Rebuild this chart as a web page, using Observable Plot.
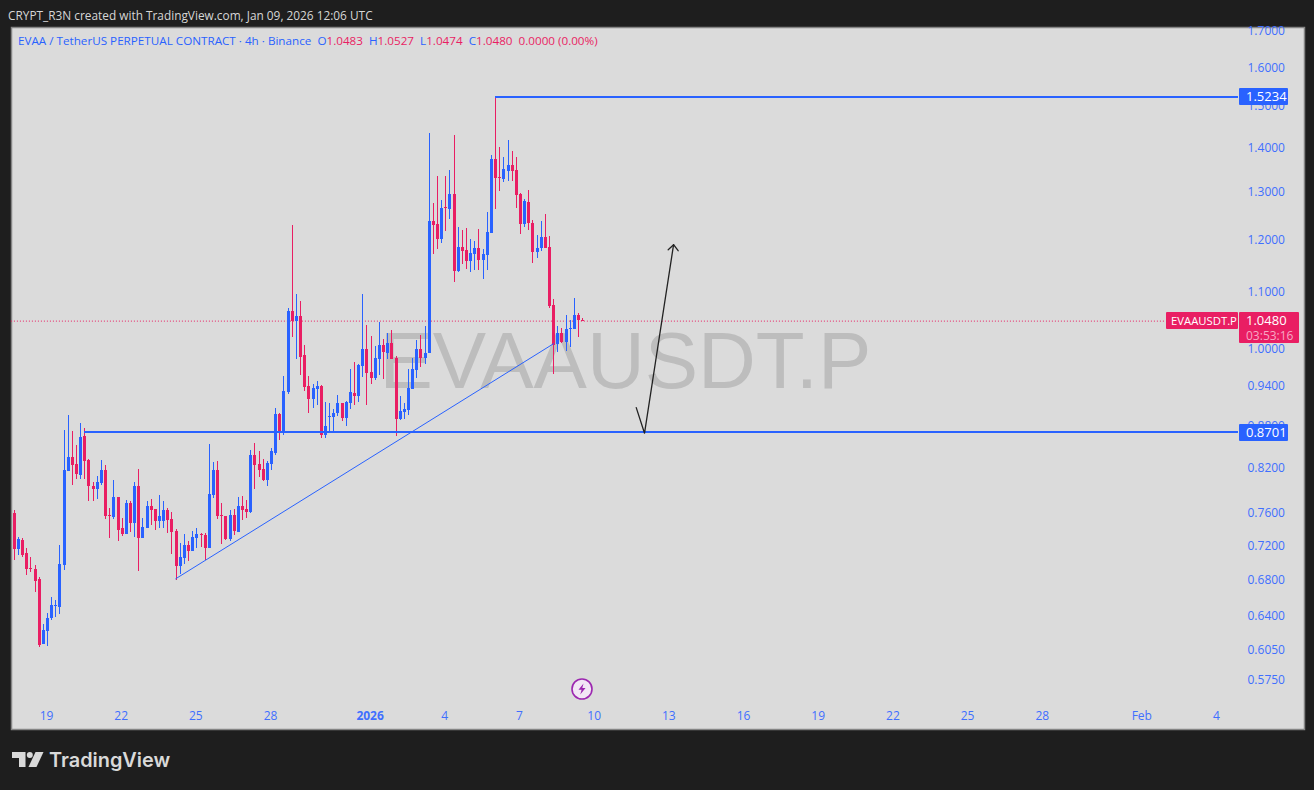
<!DOCTYPE html>
<html><head><meta charset="utf-8">
<script src="https://cdn.jsdelivr.net/npm/d3@7"></script>
<script src="https://cdn.jsdelivr.net/npm/@observablehq/plot@0.6"></script>
<style>
html,body{margin:0;padding:0;background:#1e1e1e;width:1314px;height:790px;overflow:hidden}
body{position:relative;font-family:"Open Sans",sans-serif}
#chart{position:absolute;left:0;top:0}
.t{position:absolute;white-space:pre;font-size:12px;line-height:16px}
.chip{position:absolute;color:#fff;font-size:13px;line-height:17px;border-radius:1px;white-space:pre;text-align:left}
</style></head><body>
<div id="chart"></div>
<div class="t" style="left:8px;top:7px;color:#d6d6d6;font-size:11.85px">CRYPT_R3N created with TradingView.com, Jan 09, 2026 12:06 UTC</div>
<div class="t" id="legend" style="left:18px;top:33px;font-size:11.68px"></div>
<div class="chip" style="left:1239px;top:88px;width:42px;height:17px;padding-left:7px;background:#2962ff">1.5234</div>
<div class="chip" style="left:1239px;top:424px;width:42px;height:17px;padding-left:7px;background:#2962ff">0.8701</div>
<div class="chip" style="left:1166px;top:312px;width:67px;height:17px;padding-left:5px;background:#e91e63;font-size:11.3px">EVAAUSDT.P</div>
<div class="chip" style="left:1239px;top:312px;width:53px;height:30px;padding-left:7px;padding-top:1px;background:#e91e63;line-height:15px">1.0480<br><span style="color:#f7a8c4;font-size:12px">03:53:16</span></div>
<svg style="position:absolute;left:570px;top:677px" width="24" height="24" viewBox="0 0 24 24">
  <circle cx="12" cy="12" r="10" fill="#f2e6f5" stroke="#9c27b0" stroke-width="1.6"/>
  <path d="M13.5 6.5 L8.5 12.8 H11.6 L10.3 17.5 L15.5 11 H12.3 Z" fill="#9c27b0"/>
</svg>
<svg style="position:absolute;left:11px;top:751px" width="34" height="18" viewBox="0 0 34 18">
  <path d="M1 1 H14.5 V16 H8 V7 H1 Z" fill="#d9d9d9"/>
  <circle cx="18.8" cy="4" r="3" fill="#d9d9d9"/>
  <path d="M24.5 1 H32.5 L25.5 16 H17.5 Z" fill="#d9d9d9"/>
</svg>
<div class="t" style="left:49px;top:747px;color:#d9d9d9;font-family:Inter,sans-serif;font-weight:600;font-size:19.9px;line-height:26px">TradingView</div>
<script>
const opens = [.7602,.7154,.7263,.7107,.6930,.6918,.6804,.6105,.6239,.6375,
.6504,.6493,.6965,.8149,.8343,.8246,.8095,.8640,.8301,.7948,
.7908,.7988,.8163,.7572,.7547,.7803,.7410,.7336,.7725,.7471,
.7948,.7287,.7410,.7687,.7649,.7496,.7496,.7636,.7522,.7373,
.6953,.7047,.7202,.7130,.7287,.7336,.7324,.7166,.7829,.8163,
.7572,.7559,.7275,.7572,.7360,.7687,.7649,.7611,.8371,.8246,
.8177,.8028,.8246,.8398,.8963,.8698,.9299,1.0646,1.0470,1.0558,
.9892,.9393,.9191,.9346,.9393,.8655,.8918,.8918,.8979,.9130,
.8904,.9130,.9283,.9237,.9712,.9992,.9615,.9519,.9826,1.0059,
.9925,1.0093,.9843,.8889,.8994,.9024,.9346,.9647,.9992,.9843,
.9925,1.2373,1.2312,1.2007,1.2667,1.2624,1.2944,1.1382,1.1848,1.1788,
1.1574,1.1710,1.1828,1.1593,1.1690,1.2127,1.3723,1.3317,1.3272,1.3451,
1.3590,1.3474,1.2944,1.2312,1.2772,1.2333,1.1749,1.1828,1.2047,1.1848,
1.0752,1.0076,1.0263,1.0109,1.0331,1.0331,1.0576,1.0483];
const highs = [.7636,.7303,.7287,.7166,.7059,.6965,.6827,.6312,.6429,.6603,
.6570,.7202,.8727,.8949,.8713,.8512,.8830,.8756,.8315,.8001,
.8082,.8301,.8232,.7662,.8028,.7803,.7534,.7764,.7751,.8001,
.8177,.7534,.7751,.7777,.7649,.7829,.7751,.7662,.7611,.7397,
.7227,.7336,.7251,.7373,.7410,.7348,.7348,.8526,.8273,.8287,
.7725,.7559,.7636,.7649,.7803,.7816,.7764,.8441,.8540,.8427,
.8315,.8287,.8469,.9054,.8979,.9551,1.0700,1.2292,1.0953,1.0826,
1.0059,.9551,.9423,.9471,.9408,.9145,.9130,.9039,.9253,.9130,
.9161,.9663,.9777,.9745,1.0953,1.0401,1.0212,1.0042,1.0453,1.0160,
1.0263,1.0314,.9875,.9237,.9130,.9663,.9843,1.0143,1.0229,1.0384,
1.4331,1.2750,1.3339,1.2815,1.3339,1.3474,1.4285,1.2251,1.2189,1.2230,
1.2007,1.1967,1.2209,1.1808,1.2561,1.3815,1.5234,1.4001,1.3769,1.4166,
1.3907,1.3769,1.2966,1.2836,1.3031,1.2394,1.2087,1.2373,1.2518,1.2067,
1.0862,1.0384,1.0349,1.0576,1.0488,1.0880,1.0610,1.0527];
const lows = [.7024,.7083,.7059,.6850,.6884,.6659,.6074,.6105,.6085,.6354,
.6386,.6418,.6907,.8149,.7961,.8041,.8041,.8041,.7751,.7751,
.7777,.7961,.7522,.7287,.7522,.7251,.7312,.7336,.7360,.7299,
.6895,.7287,.7410,.7447,.7385,.7410,.7410,.7348,.7095,.6793,
.6861,.6977,.7012,.7130,.7166,.7178,.7024,.7166,.7790,.7522,
.7214,.7263,.7251,.7324,.7360,.7509,.7534,.7598,.7908,.8068,
.8015,.7948,.8163,.8371,.8583,.8655,.9268,1.0195,.9826,.9567,
.9314,.8979,.9054,.9100,.8612,.8612,.8698,.8698,.8933,.8859,
.8785,.9039,.9100,.9145,.9535,.9100,.9423,.9487,.9567,.9503,
.9826,.9826,.8640,.8874,.8889,.8948,.9346,.9519,.9696,.9745,
.9925,1.1710,1.1808,1.1927,1.2168,1.2415,1.1174,1.1363,1.1515,1.1420,
1.1363,1.1401,1.1401,1.1231,1.1401,1.2127,1.2624,1.3009,1.3206,1.3228,
1.3228,1.2645,1.2107,1.2251,1.2189,1.1535,1.1632,1.1768,1.1828,1.0700,
.9583,.9942,1.0093,.9958,1.0025,1.0331,1.0195,1.0474];
const closes = [.7154,.7275,.7083,.6918,.6918,.6782,.6095,.6249,.6375,.6515,
.6515,.6977,.8163,.8343,.8232,.8109,.8626,.8287,.7948,.7908,
.8001,.8163,.7559,.7559,.7803,.7385,.7336,.7725,.7471,.7948,
.7287,.7422,.7687,.7636,.7496,.7559,.7636,.7509,.7360,.6953,
.7059,.7202,.7130,.7299,.7336,.7324,.7166,.7842,.8163,.7559,
.7559,.7275,.7572,.7373,.7687,.7636,.7611,.8371,.8232,.8163,
.8028,.8260,.8427,.8963,.8698,.9314,1.0646,1.0470,1.0558,.9859,
.9377,.9191,.9361,.9393,.8655,.8785,.8933,.8979,.9130,.8904,
.9145,.9299,.9237,.9728,.9992,.9599,.9519,.9843,1.0059,.9942,
1.0093,.9826,.8889,.9009,.9039,.9361,.9663,.9992,.9843,.9925,
1.2373,1.2292,1.2007,1.2645,1.2645,1.2944,1.1382,1.1848,1.1768,1.1574,
1.1729,1.1828,1.1593,1.1710,1.2148,1.3723,1.3295,1.3295,1.3497,1.3590,
1.3451,1.2923,1.2312,1.2793,1.2333,1.1749,1.1828,1.2047,1.1828,1.0735,
1.0059,1.0263,1.0109,1.0331,1.0349,1.0576,1.0483,1.0480];

const priceTicks = [1.7,1.6,1.5,1.4,1.3,1.2,1.1,1.0,.94,.88,.82,.76,.72,.68,.64,.605,.575];
const dayTicks = ["2025-12-19","2025-12-22","2025-12-25","2025-12-28","2026-01-04","2026-01-07","2026-01-10","2026-01-13","2026-01-16","2026-01-19","2026-01-22","2026-01-25","2026-01-28","2026-02-01","2026-02-04"];
const dayLabels = ["19","22","25","28","4","7","10","13","16","19","22","25","28","Feb","4"];
const yearTick = ["2026-01-01"];
const yearLabel = ["2026"];

const levels = [1.5234, 0.8701];
const levelStartBars = [108, 9];
const lastPrice = 1.0480;
const trendBars = [30.9, 122];
const trendPrices = [.6815, 1.0093];
const arrowShaftBars = [141.9, 143.9, 150.9];
const arrowShaftPrices = [.9070, .8691, 1.1907];
const arrowHeadBars = [149.6, 150.9, 152];
const arrowHeadPrices = [1.1808, 1.1907, 1.1788];
const watermark = "EVAAUSDT.P";

const BLUE = "#2962ff", RED = "#e91e63";
const firstBarOffset = -8;              // first candle: 8 bars before 19 Dec
const H4 = 4 * 3600 * 1000, T0 = Date.UTC(2025, 11, 19);
const barDate = i => new Date(T0 + i * H4);
const bars = opens.map((o, i) => ({
  date: barDate(i + firstBarOffset), open: o, high: highs[i], low: lows[i], close: closes[i],
  color: closes[i] >= o ? BLUE : RED
}));
const farBar = 287, axisEndBar = -8.7;

const pts = (xs, ys) => xs.map((b, i) => ({x: barDate(b), y: ys[i]}));
const fnt = "'Open Sans',sans-serif";

const plot = Plot.plot({
  width: 1314, height: 790,
  marginTop: 27, marginBottom: 61, marginLeft: 11, marginRight: 10,
  style: {background: "transparent", fontFamily: fnt, fontSize: "12px", overflow: "visible"},
  x: {type: "utc", domain: [new Date("2025-12-19"), new Date("2026-02-04")], range: [47, 1217]},
  y: {type: "log", domain: [.575, 1.7], range: [680, 31]},
  color: {type: "identity"},
  marks: [
    Plot.frame({fill: "#dbdbdb", stroke: "#858585", strokeWidth: 1.5}),
    Plot.text([watermark], {x: () => barDate(139.3), y: () => .9786, text: d => d, fontSize: 80, fill: "#bdbdbd", fontFamily: "'Liberation Sans',sans-serif", textAnchor: "middle"}),
    Plot.ruleY([lastPrice], {x1: barDate(axisEndBar), x2: barDate(269.5), stroke: RED, strokeWidth: 1, strokeDasharray: "1,2"}),
    Plot.ruleX(bars, {x: "date", y1: "low", y2: "high", stroke: "color", strokeWidth: 1, shapeRendering: "crispEdges"}),
    Plot.ruleX(bars, {x: "date", y1: "open", y2: "close", stroke: "color", strokeWidth: 3, shapeRendering: "crispEdges"}),
    Plot.ruleY(levels, {x1: (d, i) => barDate(levelStartBars[i]), x2: barDate(farBar), stroke: BLUE, strokeWidth: 2, dy: -0.5, shapeRendering: "crispEdges"}),
    Plot.line(pts(trendBars, trendPrices), {x: "x", y: "y", stroke: BLUE, strokeWidth: 1, curve: "linear"}),
    Plot.line(pts(arrowShaftBars, arrowShaftPrices), {x: "x", y: "y", stroke: "#222", strokeWidth: 1.3, curve: "linear"}),
    Plot.line(pts(arrowHeadBars, arrowHeadPrices), {x: "x", y: "y", stroke: "#222", strokeWidth: 1.3, curve: "linear"}),
    Plot.axisY(priceTicks, {anchor: "right", tickSize: 0, tickPadding: 0, dx: -57, label: null, color: "#3f6fff", tickFormat: d => d.toFixed(4), fontSize: 12}),
    Plot.axisX(dayTicks.map(d => new Date(d)), {anchor: "bottom", tickSize: 0, tickPadding: 0, dx: -1, dy: -18.5, label: null, color: "#3f6fff", tickFormat: (d, i) => dayLabels[i], fontSize: 12}),
    Plot.axisX(yearTick.map(d => new Date(d)), {anchor: "bottom", tickSize: 0, tickPadding: 0, dx: -1, dy: -18.5, label: null, color: "#3f6fff", tickFormat: (d, i) => yearLabel[i], fontSize: 12, fontWeight: "bold"})
  ]
});
document.getElementById("chart").appendChild(plot);

const legendParts = [
  ["EVAA / TetherUS PERPETUAL CONTRACT · 4h · Binance  ", BLUE],
  ["O", BLUE], ["1.0483  ", RED], ["H", BLUE], ["1.0527  ", RED],
  ["L", BLUE], ["1.0474  ", RED], ["C", BLUE], ["1.0480  ", RED], ["0.0000 (0.00%)", RED]
];
const lg = document.getElementById("legend");
legendParts.forEach(([s, c]) => { const e = document.createElement("span"); e.textContent = s; e.style.color = c; lg.appendChild(e); });
</script>
</body></html>
